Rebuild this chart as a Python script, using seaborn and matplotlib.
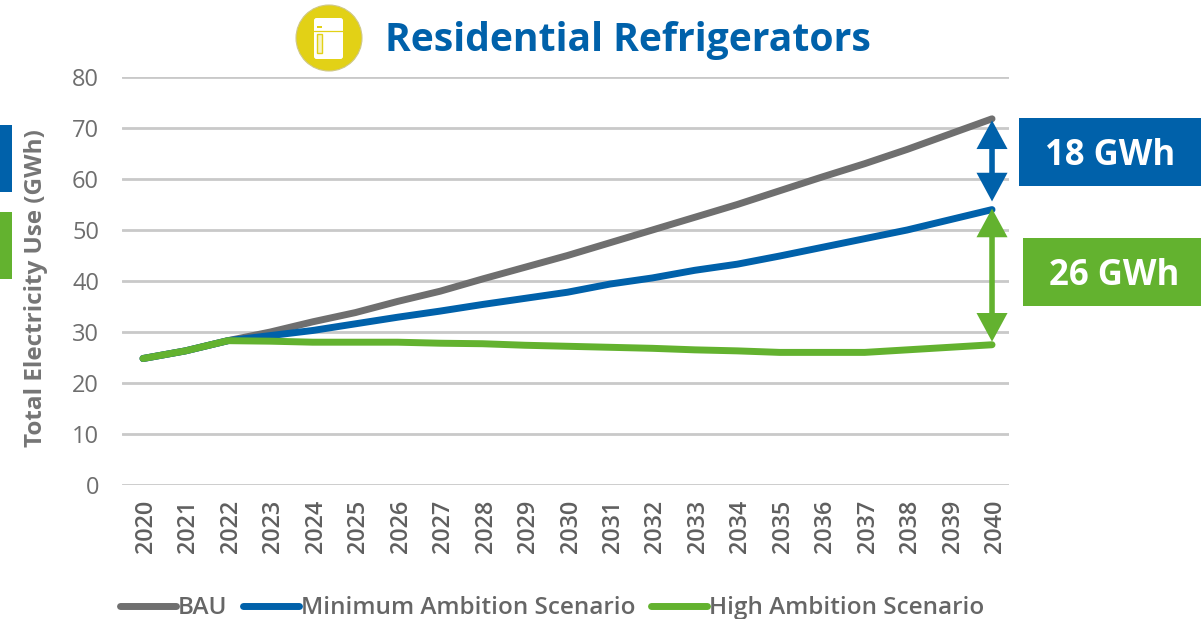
import matplotlib
matplotlib.use('Agg')
import pandas as pd
import seaborn as sns
import matplotlib.pyplot as plt
from matplotlib.patches import Rectangle, Circle, FancyBboxPatch
from matplotlib.transforms import ScaledTranslation

years = list(range(2020, 2041))
bau = [24.8, 26.3, 28.3, 30, 32, 33.8, 36, 38, 40.4, 42.7, 45, 47.5, 50, 52.5, 55, 57.7, 60.4, 63, 65.8, 68.8, 71.8]
min_amb = [24.8, 26.3, 28.3, 29.3, 30.3, 31.6, 32.9, 34.1, 35.4, 36.6, 37.8, 39.4, 40.6, 42.1, 43.3, 44.9, 46.6, 48.3, 50, 52, 54]
high_amb = [24.8, 26.3, 28.3, 28.2, 28, 28, 28, 27.8, 27.7, 27.4, 27.2, 27, 26.8, 26.5, 26.3, 26, 26, 26, 26.5, 27, 27.5]
series_names = ['BAU', 'Minimum Ambition Scenario', 'High Ambition Scenario']

GREY = '#6f6f6f'
BLUE = '#0061aa'
GREEN = '#63b22f'
YELLOW = '#e2d116'
W, H = 1201, 619

sns.set_theme(style='white')
plt.rcParams['font.family'] = ['Open Sans', 'DejaVu Sans']

df = pd.DataFrame({'year': years, series_names[0]: bau, series_names[1]: min_amb, series_names[2]: high_amb})
long_df = df.melt(id_vars='year', var_name='scenario', value_name='gwh')

fig = plt.figure(figsize=(W / 100, H / 100), dpi=100)
# axes placed from pixel positions of the reference
ax = fig.add_axes([122 / W, 1 - 485 / H, 887 / W, 408 / H])
sns.lineplot(data=long_df, x='year', y='gwh', hue='scenario', hue_order=series_names,
             palette=[GREY, BLUE, GREEN], linewidth=5, ax=ax, sort=False)

ax.set_xlim(2019.505, 2040.40)
ax.set_ylim(0, 80)
ax.set_yticks(range(0, 81, 10))
ax.set_xticks(years)
ax.grid(axis='y', color='#c9c9c9', linewidth=2)
ax.set_axisbelow(True)
sns.despine(ax=ax, left=True, bottom=True)
ax.tick_params(axis='y', length=0, labelsize=17, labelcolor='#6e6e6e', pad=16.5)
ax.tick_params(axis='x', length=0, labelsize=16.8, labelcolor='#5f5f5f', pad=10.5, rotation=90)
# rotated labels sit a little left of the tick, nudge them over
nudge = ScaledTranslation(3 / 100, 0, fig.dpi_scale_trans)
for t in ax.get_xticklabels():
    t.set_fontweight('semibold')
    t.set_transform(t.get_transform() + nudge)
ax.set_xlabel('')
ax.set_ylabel('')
fig.text(36 / W, 1 - 288 / H, 'Total Electricity Use (GWh)', rotation=90, ha='center', va='center',
         fontsize=17.5, fontweight='bold', color='#757575')

# range arrows at the last year
arrow_style = '<|-|>,head_length=0.85,head_width=0.46'
ax.annotate('', xy=(2040, 71.5), xytext=(2040, 55.6),
            arrowprops=dict(arrowstyle=arrow_style, color=BLUE, lw=4, joinstyle='miter', capstyle='butt',
                            shrinkA=0, shrinkB=0, mutation_scale=17), annotation_clip=False)
ax.annotate('', xy=(2040, 54.2), xytext=(2040, 28.1),
            arrowprops=dict(arrowstyle=arrow_style, color=GREEN, lw=4, joinstyle='miter', capstyle='butt',
                            shrinkA=0, shrinkB=0, mutation_scale=17), annotation_clip=False)

# overlay in pixel coordinates for boxes and the icon
ov = fig.add_axes([0, 0, 1, 1], zorder=5)
ov.set_xlim(0, W)
ov.set_ylim(H, 0)
ov.axis('off')
ov.add_patch(Rectangle((1019, 118), 182, 68, color=BLUE, lw=0))
ov.add_patch(Rectangle((1023, 238), 178, 68, color=GREEN, lw=0))
ov.add_patch(Rectangle((0, 125), 12, 67, color=BLUE, lw=0))
ov.add_patch(Rectangle((0, 212), 12, 67, color=GREEN, lw=0))
ov.text(1110, 156, '18 GWh', color='white', fontsize=25, fontweight='bold', ha='center', va='center')
ov.text(1114, 276, '26 GWh', color='white', fontsize=25, fontweight='bold', ha='center', va='center')
ov.text(627.5, 41, 'Residential Refrigerators', color=BLUE, fontsize=28.2, fontweight='bold', ha='center', va='center')

# fridge icon
ov.add_patch(Circle((329, 38), 33, facecolor=YELLOW, edgecolor='#cfc88a', lw=0.8))
ov.add_patch(FancyBboxPatch((314, 18), 29, 41, boxstyle='round,pad=0,rounding_size=2.5', facecolor='white', lw=0))
ov.plot([314, 343], [31, 31], color=YELLOW, lw=0.9)
ov.add_patch(Rectangle((317, 26), 5, 2, color=YELLOW, lw=0))
ov.add_patch(Rectangle((317, 34), 5, 19, facecolor='#f7f3c4', edgecolor=YELLOW, lw=1))

# legend along the bottom edge
ax.legend_.remove()
handles, labels = ax.get_legend_handles_labels()
leg = fig.legend(handles[:3], series_names, loc='lower left', bbox_to_anchor=(98 / W, -23 / H), ncol=3, frameon=False,
                 handlelength=2.3, handletextpad=0.08, columnspacing=0.65, labelcolor='#666666',
                 prop={'weight': 'semibold', 'size': 17.5})

fig.savefig('out.png', dpi=100)
